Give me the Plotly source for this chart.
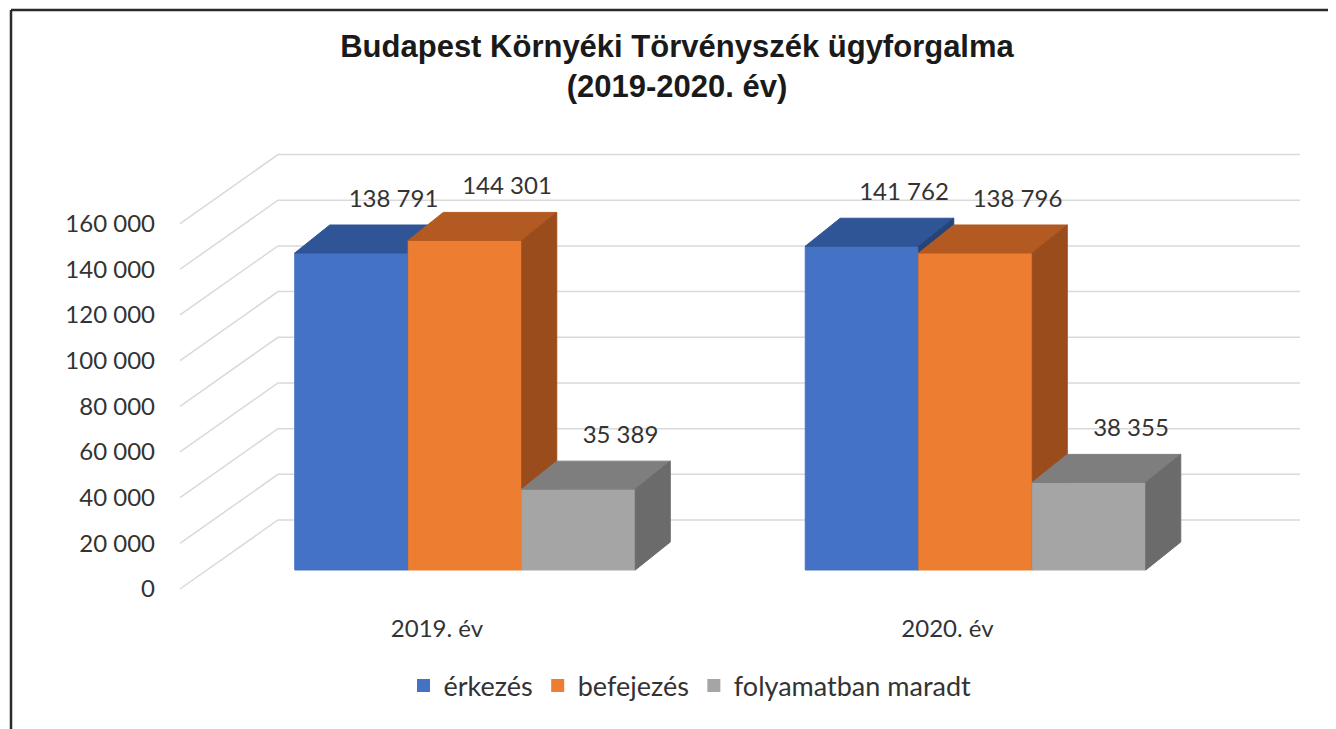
import plotly.graph_objects as go

# chart data
categories = ["2019. év", "2020. év"]
series_names = ["érkezés", "befejezés", "folyamatban maradt"]
erkezes = [138791, 141762]
befejezes = [144301, 138796]
folyamatban = [35389, 38355]
y_ticks = [0, 20000, 40000, 60000, 80000, 100000, 120000, 140000, 160000]

series_values = [erkezes, befejezes, folyamatban]
# front / top / side face colours for each series
face_colors = [
    ("#4472C4", "#2F5597", "#264478"),
    ("#ED7D31", "#B35A22", "#9A4C1D"),
    ("#A5A5A5", "#7E7E7E", "#6B6B6B"),
]
text_color = "#333333"
font_name = "Lato"

# the page body adds an 8px margin, so work in page px minus 8
OFF = 8
W, H = 1336 - OFF, 729 - OFF

# geometry of the fake 3D view (page pixel based)
K = 0.002284            # px per value unit
PX = 510.5              # px per category step
CENTER0 = 465 - OFF     # px of the first category centre
FLOOR = 570 - OFF       # px of the bar floor
BAR_W = 113.5 / PX      # bar width in category units
DX = 35 / PX            # bar depth, x
DY = 28 / K             # bar depth, y
WALL_FRONT_X = (180 - OFF - CENTER0) / PX
WALL_BACK_X = (278 - OFF - CENTER0) / PX
GRID_END_X = (1300 - OFF - CENTER0) / PX
FRONT_OFF = -19 / K     # tick label row sits below the bar floor
BACK_OFF = 50 / K       # back wall sits above the bar floor
LABEL_DX = 7 / PX
LABEL_DY = 24 / K

L_MARGIN = 165 - OFF
PLOT_BOTTOM = 612 - OFF
B_MARGIN = H - PLOT_BOTTOM
plot_w = W - L_MARGIN
y_range = [(FLOOR - PLOT_BOTTOM) / K, FLOOR / K]
x_range = [(L_MARGIN - CENTER0) / PX, (W - CENTER0) / PX]

fig = go.Figure()

# side wall diagonals + back wall gridlines
gx, gy = [], []
for t in y_ticks:
    gx += [WALL_FRONT_X, WALL_BACK_X, GRID_END_X, None]
    gy += [t + FRONT_OFF, t + BACK_OFF, t + BACK_OFF, None]
fig.add_trace(go.Scatter(x=gx, y=gy, mode="lines", line=dict(color="#D9D9D9", width=1.5),
                         hoverinfo="skip", showlegend=False))


def face(xs, ys, color):
    fig.add_trace(go.Scatter(x=xs + [xs[0]], y=ys + [ys[0]], mode="lines", fill="toself",
                             fillcolor=color, line=dict(color=color, width=1),
                             hoverinfo="skip", showlegend=False))


for gi in range(len(categories)):
    for si, vals in enumerate(series_values):
        v = vals[gi]
        xl = gi + (si - 1.5) * BAR_W
        xr = xl + BAR_W
        front, top, side = face_colors[si]
        face([xl, xl, xr, xr], [0, v, v, 0], front)
        face([xl, xl + DX, xr + DX, xr], [v, v + DY, v + DY, v], top)
        face([xr, xr, xr + DX, xr + DX], [0, v, v + DY, DY], side)

# value labels
lx, ly, lt = [], [], []
for gi in range(len(categories)):
    for si, vals in enumerate(series_values):
        v = vals[gi]
        lx.append(gi + (si - 1) * BAR_W + DX + LABEL_DX)
        ly.append(v + DY + LABEL_DY)
        lt.append(f"{v:,}".replace(",", " "))
fig.add_trace(go.Scatter(x=lx, y=ly, mode="text", text=lt,
                         textfont=dict(family=font_name, size=24, color=text_color),
                         hoverinfo="skip", showlegend=False))

# legend entries
for si, name in enumerate(series_names):
    fig.add_trace(go.Scatter(x=[None], y=[None], mode="markers", name=name,
                             marker=dict(symbol="square", size=13, color=face_colors[si][0])))

# axis carrying the value tick labels
fig.add_trace(go.Scatter(x=[None], y=[None], yaxis="y2", showlegend=False, hoverinfo="skip"))

# outer frame: top and left edges only
frame_left = (11 - OFF - L_MARGIN) / plot_w
frame_top = (PLOT_BOTTOM - (10 - OFF)) / PLOT_BOTTOM
frame_bottom = (PLOT_BOTTOM - 760) / PLOT_BOTTOM
frame_right = (1360 - OFF - L_MARGIN) / plot_w
frame_line = dict(color="#2A2A2A", width=2.5)

fig.update_layout(
    width=W, height=H,
    margin=dict(l=L_MARGIN, r=0, t=0, b=B_MARGIN),
    paper_bgcolor="white", plot_bgcolor="white",
    title=dict(text="<b>Budapest Környéki Törvényszék ügyforgalma<br>(2019-2020. év)</b>",
               x=(677 - OFF) / W, xanchor="center", y=1 - 49 / H, yanchor="middle",
               yref="container",
               font=dict(family="Liberation Sans", size=31, color="#1A1A1A")),
    xaxis=dict(range=x_range, showgrid=False, zeroline=False, showline=False, ticks="",
               tickvals=[i - 28 / PX for i in range(len(categories))], ticktext=categories,
               tickfont=dict(family=font_name, size=24, color=text_color)),
    yaxis=dict(range=y_range, showgrid=False, zeroline=False, showticklabels=False),
    yaxis2=dict(range=[r - FRONT_OFF for r in y_range], overlaying="y", side="left", anchor="x",
                showgrid=False, zeroline=False, ticks="", tickvals=y_ticks, ticklabelstandoff=9,
                ticktext=[f"{t:,}".replace(",", " ") for t in y_ticks],
                tickfont=dict(family=font_name, size=24, color=text_color)),
    legend=dict(orientation="h", x=(690 - OFF - L_MARGIN) / plot_w, xanchor="center",
                y=(PLOT_BOTTOM - (686 - OFF)) / (PLOT_BOTTOM), yanchor="middle",
                font=dict(family=font_name, size=27, color=text_color)),
    shapes=[
        dict(type="line", xref="paper", yref="paper", x0=frame_left, x1=frame_right,
             y0=frame_top, y1=frame_top, line=frame_line),
        dict(type="line", xref="paper", yref="paper", x0=frame_left, x1=frame_left,
             y0=frame_bottom, y1=frame_top, line=frame_line),
    ],
)

fig.write_html("out.html")
